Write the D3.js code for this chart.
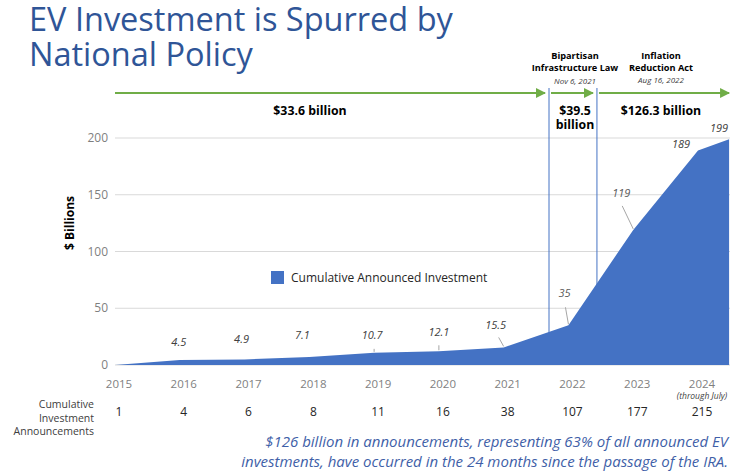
<!DOCTYPE html>
<html><head><meta charset="utf-8">
<script src="https://cdn.jsdelivr.net/npm/d3@7"></script>
<style>
body{margin:0;background:#fff;}
text{font-family:"Open Sans",sans-serif;}
</style></head>
<body><svg id="c" width="750" height="474"></svg>
<script>
// Data
const years = [2015, 2016, 2017, 2018, 2019, 2020, 2021, 2022, 2023, 2024];
const investment = [0, 4.5, 4.9, 7.1, 10.7, 12.1, 15.5, 35, 119, 189];
const lastPoint = {t: 2024.48, v: 199};   // through July 2024
const announcements = [1, 4, 6, 8, 11, 16, 38, 107, 177, 215];
const yTicks = [0, 50, 100, 150, 200];
const policies = [
  {name: ["Bipartisan", "Infrastructure Law"], date: "Nov 6, 2021", t: 2021.70},
  {name: ["Inflation", "Reduction Act"], date: "Aug 16, 2022", t: 2022.44}
];
const periods = [
  {from: 2015, to: 2021.70, label: ["$33.6 billion"]},
  {from: 2021.70, to: 2022.44, label: ["$39.5", "billion"]},
  {from: 2022.44, to: 2024.48, label: ["$126.3 billion"]}
];

const svg = d3.select("#c");
const x = d3.scaleLinear().domain([2015, 2024]).range([115, 698]);
const y = d3.scaleLinear().domain([0, 200]).range([365, 138]);

const pts = years.map((t, i) => ({t, v: investment[i]})).concat([lastPoint]);

// Title
const title = svg.append("text").attr("x", 30).attr("fill", "#2F5597").style("font-size", "32.5px");
title.append("tspan").attr("x", 29).attr("y", 31).text("EV Investment is Spurred by");
title.append("tspan").attr("x", 29).attr("y", 66).text("National Policy");

// Gridlines
svg.append("g").selectAll("line").data(yTicks).join("line")
  .attr("x1", 115).attr("x2", 730)
  .attr("y1", d => y(d)).attr("y2", d => y(d))
  .attr("stroke", "#d9d9d9").attr("stroke-width", 1);

// Y axis labels
svg.append("g").selectAll("text").data(yTicks).join("text")
  .attr("x", 108).attr("y", d => y(d) + 4)
  .attr("text-anchor", "end").attr("fill", "#7f7f7f").style("font-size", "12px")
  .text(d => d);

svg.append("text").attr("transform", "translate(74,223) rotate(-90)")
  .attr("text-anchor", "middle").style("font-size", "12px").style("font-weight", "bold")
  .attr("fill", "#000").text("$ Billions");

// Policy vertical lines (behind area)
svg.append("g").selectAll("line").data(policies).join("line")
  .attr("x1", d => x(d.t)).attr("x2", d => x(d.t))
  .attr("y1", 88).attr("y2", y(0))
  .attr("stroke", "#4472C4").attr("stroke-width", 1);

// Area
const area = d3.area().x(d => x(d.t)).y0(y(0)).y1(d => y(d.v));
svg.append("path").datum(pts).attr("d", area).attr("fill", "#4472C4");

// Green arrows
const defs = svg.append("defs");
defs.append("marker").attr("id", "arr").attr("viewBox", "0 0 10 10")
  .attr("refX", 9).attr("refY", 5).attr("markerWidth", 5).attr("markerHeight", 5)
  .attr("orient", "auto").attr("markerUnits", "strokeWidth")
  .append("path").attr("d", "M0,0 L10,5 L0,10 Z").attr("fill", "#70AD47");
svg.append("g").selectAll("line").data(periods).join("line")
  .attr("x1", (d, i) => x(d.from) + (i === 0 ? 0 : 2))
  .attr("x2", (d, i) => x(d.to) - (i === 2 ? 0 : 4))
  .attr("y1", 93).attr("y2", 93)
  .attr("stroke", "#70AD47").attr("stroke-width", 2)
  .attr("marker-end", "url(#arr)");

// Period labels
const plx = [310, 575, 661];
periods.forEach((p, i) => {
  p.label.forEach((l, j) => {
    svg.append("text").attr("x", plx[i]).attr("y", 115 + j * 13.5)
      .attr("text-anchor", "middle").style("font-size", "12.3px").style("font-weight", "bold")
      .attr("fill", "#000").text(l);
  });
});

// Policy headings
const phx = [575, 661];
policies.forEach((p, i) => {
  p.name.forEach((n, j) => {
    svg.append("text").attr("x", phx[i]).attr("y", 59 + j * 11.5)
      .attr("text-anchor", "middle").style("font-size", "9.2px").style("font-weight", "bold")
      .attr("fill", "#000").text(n);
  });
  svg.append("text").attr("x", phx[i]).attr("y", 84 - i)
    .attr("text-anchor", "middle").style("font-size", "8px").style("font-style", "italic")
    .attr("fill", "#404040").text(p.date);
});

// Data labels
const labelPos = [
  null,
  {dx: -1, dy: -14},
  {dx: -3, dy: -16},
  {dx: -7, dy: -18},
  {dx: -2, dy: -14, lead: [0, -4]},
  {dx: 0, dy: -15, lead: [0, -6]},
  {dx: -8, dy: -18, lead: [-5, -10]},
  {dx: -4, dy: -28, lead: [-3, -18]},
  {dx: -12, dy: -33, lead: [-11, -24]},
  {dx: -17, dy: -2},
  {dx: -10, dy: -7}
];
pts.forEach((d, i) => {
  const lp = labelPos[i];
  if (!lp) return;
  const px = x(d.t), py = y(d.v);
  if (lp.lead) {
    svg.append("line").attr("x1", px).attr("y1", py - 1)
      .attr("x2", px + lp.lead[0]).attr("y2", py + lp.lead[1])
      .attr("stroke", "#a6a6a6").attr("stroke-width", 1);
  }
  svg.append("text").attr("x", px + lp.dx).attr("y", py + lp.dy)
    .attr("text-anchor", "middle").style("font-size", "11px").style("font-style", "italic")
    .attr("fill", i >= 7 && i <= 8 ? "#595959" : "#404040")
    .text(d.v);
});

// Legend
svg.append("rect").attr("x", 271).attr("y", 271).attr("width", 13).attr("height", 13).attr("fill", "#4472C4");
svg.append("text").attr("x", 291).attr("y", 282).style("font-size", "12px").attr("fill", "#262626")
  .text("Cumulative Announced Investment");

// Year labels
svg.append("g").selectAll("text").data(years).join("text")
  .attr("x", d => x(d) + 4).attr("y", 388)
  .attr("text-anchor", "middle").attr("fill", "#7f7f7f").style("font-size", "11.5px")
  .text(d => d);
svg.append("text").attr("x", x(2024) + 4).attr("y", 399).attr("text-anchor", "middle")
  .style("font-size", "8.5px").style("font-style", "italic").attr("fill", "#404040").text("(through July)");

// Announcements row
["Cumulative", "Investment", "Announcements"].forEach((t, i) => {
  svg.append("text").attr("x", 94).attr("y", 408 + i * 13.5).attr("text-anchor", "end")
    .style("font-size", "10.5px").attr("fill", "#404040").text(t);
});
svg.append("g").selectAll("text").data(announcements).join("text")
  .attr("x", (d, i) => x(years[i]) + 4).attr("y", 416)
  .attr("text-anchor", "middle").attr("fill", "#262626").style("font-size", "12px")
  .text(d => d);

// Footnote
["$126 billion in announcements, representing 63% of all announced EV",
 "investments, have occurred in the 24 months since the passage of the IRA."].forEach((t, i) => {
  svg.append("text").attr("x", 728).attr("y", 447 + i * 20).attr("text-anchor", "end")
    .style("font-size", "15px").style("font-style", "italic").attr("fill", "#3F5FA8").text(t);
});
</script></body></html>
